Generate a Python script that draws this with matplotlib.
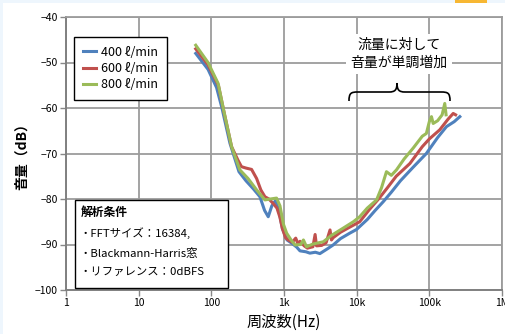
import matplotlib.pyplot as plt
from matplotlib.path import Path
from matplotlib.patches import PathPatch, Rectangle
import matplotlib.ticker as mticker

plt.rcParams['font.family'] = ['Noto Sans CJK JP', 'DejaVu Sans']

# ----- data -----
freq_400 = [61, 90, 118, 140, 180, 240, 300, 380, 466, 540, 607, 680, 760, 850, 950,
            1100, 1300, 1500, 1660, 2000, 2270, 2700, 3120, 4000, 4750, 6000, 8060,
            9960, 14000, 18000, 23200, 30000, 40000, 60000, 91000, 130000, 172000,
            220000, 263000]
db_400 = [-48.0, -51.5, -55.5, -60.0, -67.7, -74.0, -76.0, -77.8, -79.5, -82.5, -83.9,
          -81.5, -80.4, -82.5, -86.5, -89.0, -89.8, -90.6, -91.4, -91.6, -91.9, -91.7,
          -92.0, -90.9, -90.1, -88.7, -87.5, -86.7, -84.5, -82.5, -80.6, -78.5, -76.0,
          -73.0, -70.0, -66.5, -64.1, -63.0, -61.9]

freq_600 = [61, 90, 125, 150, 190, 233, 260, 300, 358, 420, 480, 546, 620, 711, 800,
            878, 950, 1050, 1143, 1300, 1450, 1550, 1660, 1900, 2100, 2500, 2680, 2800,
            3300, 3800, 4300, 4500, 4750, 6000, 8000, 11000, 15000, 20000, 26000,
            35000, 54000, 80000, 100000, 139000, 180000, 213000, 230000]
db_600 = [-47.0, -50.5, -55.0, -61.0, -68.5, -71.5, -72.9, -73.2, -73.5, -75.5, -78.0,
          -79.5, -80.0, -81.0, -82.0, -84.0, -86.5, -88.5, -89.0, -89.5, -88.6, -89.8,
          -89.3, -90.3, -90.8, -90.5, -87.8, -90.3, -90.2, -89.6, -86.8, -89.0, -88.5,
          -87.3, -86.2, -85.0, -82.3, -80.0, -77.7, -75.0, -72.2, -68.5, -66.8, -64.8,
          -62.5, -61.2, -61.5]

freq_800 = [61, 90, 124, 150, 190, 247, 320, 420, 546, 650, 790, 880, 980, 1087, 1250,
            1420, 1700, 1850, 2040, 2500, 3470, 4500, 6530, 9000, 11000, 14000, 18800,
            22000, 25700, 30000, 35300, 45000, 60000, 80000, 91000, 100000, 107000,
            113000, 130000, 150000, 163000, 170000]
db_800 = [-46.2, -50.0, -54.6, -61.0, -68.5, -73.6, -75.5, -78.0, -80.2, -80.0, -79.8,
          -81.5, -85.5, -87.5, -89.0, -90.1, -90.0, -89.0, -90.5, -89.9, -89.4, -88.0,
          -86.4, -85.0, -83.9, -82.0, -80.2, -77.5, -74.0, -74.8, -73.6, -71.2, -68.8,
          -66.2, -65.6, -63.0, -61.9, -63.4, -62.8, -61.5, -59.0, -61.5]

series_labels = ["400 ℓ/min", "600 ℓ/min", "800 ℓ/min"]
colors = ["#4F81BD", "#C0504D", "#9BBB59"]

x_ticks = [1, 10, 100, 1e3, 1e4, 1e5, 1e6]
x_ticklabels = ["1", "10", "100", "1k", "10k", "100k", "1M"]
y_ticks = [-100, -90, -80, -70, -60, -50, -40]

note_title = "解析条件"
note_lines = ["・FFTサイズ：16384,", "・Blackmann-Harris窓", "・リファレンス：0dBFS"]
brace_text = "流量に対して\n音量が単調増加"

# ----- figure -----
W, H = 506, 334
fig = plt.figure(figsize=(W / 100, H / 100), dpi=100, facecolor="white")
ax = fig.add_axes([66 / W, 1 - 290 / H, 436 / W, 273 / H])

# light blue page edge
fig.patches.append(Rectangle((0, 1 - 3 / H), 1, 3 / H, transform=fig.transFigure,
                             facecolor="#EEF6FD", edgecolor="none", zorder=-5))
fig.patches.append(Rectangle((0, 0), 3 / W, 1, transform=fig.transFigure,
                             facecolor="#EEF6FD", edgecolor="none", zorder=-5))
fig.patches.append(Rectangle((455 / W, 1 - 3 / H), 32 / W, 3 / H, transform=fig.transFigure,
                             facecolor="#F7B733", edgecolor="none", zorder=-4))

handles = []
for fx, dy, lab, c in zip([freq_400, freq_600, freq_800], [db_400, db_600, db_800],
                          series_labels, colors):
    h, = ax.plot(fx, dy, color=c, lw=2.2, label=lab, zorder=3, solid_joinstyle="round")
    handles.append(h)

ax.set_xscale("log")
ax.set_xlim(1, 1e6)
ax.set_ylim(-100, -40)
ax.set_xticks(x_ticks)
ax.set_xticklabels(x_ticklabels)
ax.xaxis.set_minor_locator(mticker.NullLocator())
ax.set_yticks(y_ticks)
ax.tick_params(axis="both", labelsize=7.5, length=4, width=1, color="#888888",
               direction="out", pad=2)

ax.grid(True, color="#9C9C9C", lw=1.3, zorder=0)
ax.set_axisbelow(True)
for s in ["top", "right"]:
    ax.spines[s].set_color("#9C9C9C")
    ax.spines[s].set_linewidth(1.3)
for s in ["left", "bottom"]:
    ax.spines[s].set_color("#808080")
    ax.spines[s].set_linewidth(1.4)

ax.set_xlabel("周波数(Hz)", fontsize=11, labelpad=4)
ax.set_ylabel("音量（dB）", fontsize=10, fontweight="bold", labelpad=4)

leg = ax.legend(handles=handles, loc="upper left", bbox_to_anchor=((74 - 66) / 436, (290 - 37) / 273),
                borderaxespad=0, fancybox=False, edgecolor="black", fontsize=9,
                handlelength=1.1, handletextpad=0.35, labelspacing=0.25,
                borderpad=0.7, framealpha=1)
leg.get_frame().set_linewidth(1.0)


def af(px, py):
    return ((px - 66) / 436, (290 - py) / 273)


# analysis conditions box
x0, y0 = af(75, 288)
x1, y1 = af(228, 200)
ax.add_patch(Rectangle((x0, y0), x1 - x0, y1 - y0, transform=ax.transAxes,
                       facecolor="white", edgecolor="black", lw=1.0, zorder=5))
tx, ty = af(81, 212)
ax.text(tx, ty, note_title, transform=ax.transAxes, fontsize=8.5, fontweight="bold",
        va="center", ha="left", zorder=6)
for py, line in zip([233, 253, 272], note_lines):
    tx, ty = af(80, py)
    ax.text(tx, ty, line, transform=ax.transAxes, fontsize=8.2, va="center", ha="left", zorder=6)

# brace annotation
bx, by = af(399, 54)
ax.text(bx, by, brace_text, transform=ax.transAxes, fontsize=10, ha="center", va="center",
        linespacing=1.35, zorder=6,
        bbox=dict(boxstyle="square,pad=0.3", facecolor="white", edgecolor="none"))

brace_px = [(349, 101), (349, 93), (351, 92), (358, 92), (389, 92),
            (395, 92), (397, 90), (397, 83),
            (397, 90), (399, 92), (405, 92), (441, 92),
            (448, 92), (450, 93), (450, 101)]
codes = [Path.MOVETO, Path.CURVE4, Path.CURVE4, Path.CURVE4, Path.LINETO,
         Path.CURVE4, Path.CURVE4, Path.CURVE4,
         Path.CURVE4, Path.CURVE4, Path.CURVE4, Path.LINETO,
         Path.CURVE4, Path.CURVE4, Path.CURVE4]
brace = Path([af(px, py) for px, py in brace_px], codes)
ax.add_patch(PathPatch(brace, transform=ax.transAxes, facecolor="none",
                       edgecolor="black", lw=1.2, zorder=6, clip_on=False))

fig.savefig("out.png", dpi=100, facecolor=fig.get_facecolor())
